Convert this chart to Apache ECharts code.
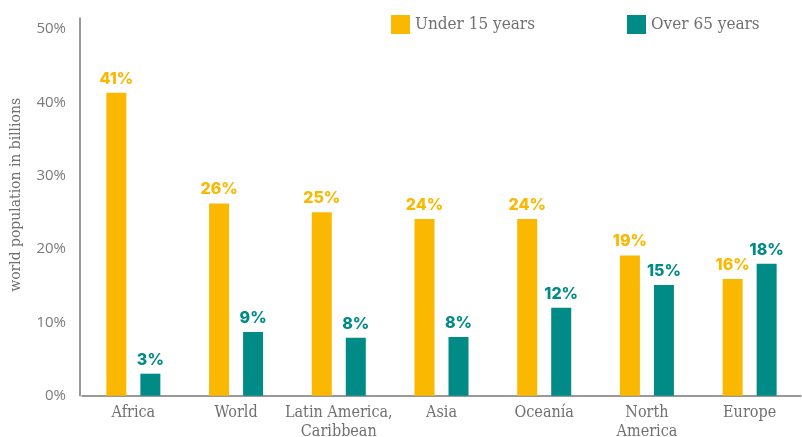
<!DOCTYPE html>
<html>
<head>
<meta charset="utf-8">
<script src="https://cdn.jsdelivr.net/npm/echarts@6/dist/echarts.min.js"></script>
<style>
html,body{margin:0;padding:0;background:#fff;}
#chart{width:802px;height:437px;}
</style>
</head>
<body>
<div id="chart"></div>
<script>
const categories = ['Africa', 'World', 'Latin America,\nCaribbean', 'Asia', 'Oceanía', 'North\nAmerica', 'Europe'];
const under15 = [41.3, 26.2, 25.0, 24.1, 24.1, 19.1, 15.9];
const over65 = [3.0, 8.7, 7.9, 8.0, 12.0, 15.1, 18.0];
const yTicks = [0, 10, 20, 30, 40, 50];
const seriesNames = ['Under 15 years', 'Over 65 years'];

const ORANGE = '#FAB800';
const TEAL = '#008B87';
const GREY = '#707070';
const SLAB = '"DejaVu Serif Condensed", "DejaVu Serif", serif';

const chart = echarts.init(document.getElementById('chart'), null, {renderer: 'canvas'});

function labelOf(color) {
  return {
    show: true,
    position: 'top',
    distance: 6,
    color: color,
    fontFamily: 'Inter, "Open Sans", sans-serif',
    fontWeight: 800,
    fontSize: 16,
    formatter: p => Math.round(p.value) + '%'
  };
}

chart.setOption({
  animation: false,
  backgroundColor: '#ffffff',
  grid: {left: 82, right: 1, top: 18, bottom: 41.3, containLabel: false, outerBoundsMode: 'none'},
  legend: {
    data: seriesNames,
    left: 386,
    top: 10,
    itemWidth: 19,
    itemHeight: 19,
    itemGap: 92,
    icon: 'rect',
    textStyle: {color: GREY, fontFamily: SLAB, fontSize: 17}
  },
  xAxis: {
    type: 'category',
    data: categories,
    axisLine: {show: true, lineStyle: {color: '#777', width: 1.5}},
    axisTick: {show: false},
    axisLabel: {
      color: GREY, fontFamily: SLAB, fontSize: 16, lineHeight: 19, margin: 8,
      interval: 0
    },
    splitLine: {show: false}
  },
  yAxis: {
    type: 'value',
    min: yTicks[0],
    max: 51.5,
    interval: 10,
    offset: 2,
    name: 'world population in billions',
    nameLocation: 'middle',
    nameGap: 56,
    nameRotate: 90,
    nameTextStyle: {color: GREY, fontFamily: SLAB, fontSize: 15.5, padding: [0, 0, 0, 24]},
    axisLine: {show: true, lineStyle: {color: '#777', width: 1.5}},
    axisTick: {show: false},
    splitLine: {show: false},
    axisLabel: {
      showMaxLabel: false,
      color: '#7a7a7a',
      fontFamily: '"Open Sans", sans-serif',
      fontSize: 15,
      margin: 14,
      padding: [0, 0, 9, 0],
      formatter: v => (yTicks.indexOf(v) >= 0 ? v + '%' : '')
    }
  },
  series: [
    {
      name: seriesNames[0], type: 'bar', data: under15,
      barWidth: 20, barGap: '70%',
      itemStyle: {color: ORANGE},
      label: labelOf(ORANGE)
    },
    {
      name: seriesNames[1], type: 'bar', data: over65,
      barWidth: 20, barGap: '70%',
      itemStyle: {color: TEAL},
      label: labelOf(TEAL)
    }
  ]
});
</script>
</body>
</html>
